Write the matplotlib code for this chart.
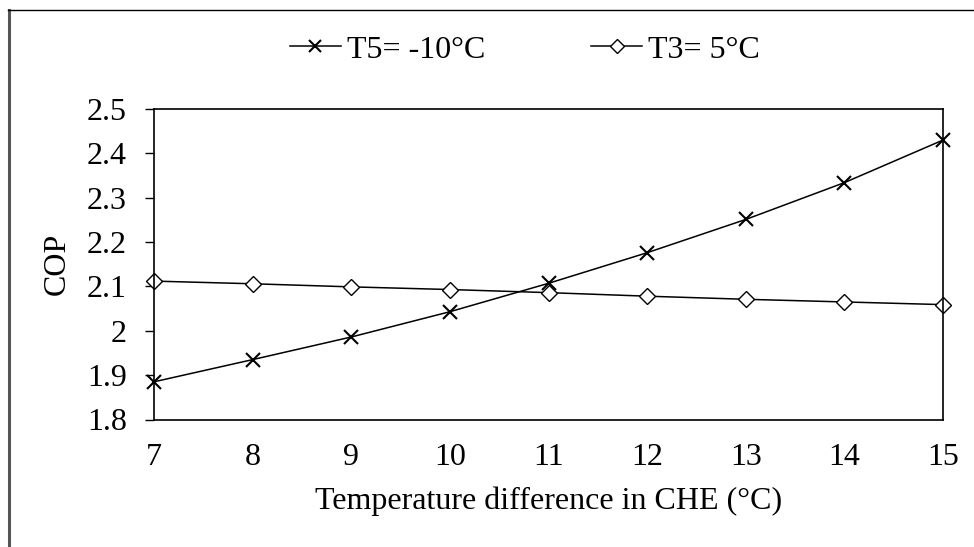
import numpy as np
import matplotlib
matplotlib.use("Agg")
import matplotlib.pyplot as plt
from matplotlib.lines import Line2D

plt.rcParams['font.family'] = ['Liberation Serif', 'DejaVu Serif']

# Data
temp_diff = [7, 8, 9, 10, 11, 12, 13, 14, 15]
cop_t5 = [1.885, 1.935, 1.986, 2.043, 2.107, 2.176, 2.251, 2.334, 2.430]
cop_t3 = [2.112, 2.106, 2.099, 2.093, 2.086, 2.078, 2.071, 2.065, 2.059]
y_ticks = [1.8, 1.9, 2.0, 2.1, 2.2, 2.3, 2.4, 2.5]
y_tick_labels = ['1.8', '1.9', '2', '2.1', '2.2', '2.3', '2.4', '2.5']

FS = 23

fig = plt.figure(figsize=(9.74, 5.47), dpi=100)
ax = fig.add_axes([154 / 974, 1 - 419.5 / 547, (943 - 154) / 974, (419.5 - 109) / 547])

ax.plot(temp_diff, cop_t5, color='black', lw=1.1, marker='x', ms=10.5, mew=1.5,
        label='T5= -10°C', clip_on=False)
ax.plot(temp_diff, cop_t3, color='black', lw=1.1, marker='D', ms=8.5, mew=1.0,
        mfc='white', label='T3= 5°C', clip_on=False)

ax.set_xlim(7, 15)
ax.set_ylim(1.8, 2.5)
ax.set_xticks(temp_diff)
ax.set_yticks(y_ticks)
ax.set_yticklabels(y_tick_labels)
ax.tick_params(axis='x', length=0, pad=17, labelsize=FS)
ax.tick_params(axis='y', length=6.5, width=1.0, direction='out', pad=13, labelsize=FS)
for s in ax.spines.values():
    s.set_linewidth(1.2)

ax.set_xlabel('Temperature difference in CHE (°C)', fontsize=FS, labelpad=10)
ax.set_ylabel('COP', fontsize=FS, labelpad=11)

fig.legend(*ax.get_legend_handles_labels(), loc='center',
           bbox_to_anchor=(525 / 974, 1 - 50 / 547), ncol=2, frameon=False,
           fontsize=FS, markerscale=0.8, handlelength=1.6, handletextpad=0.2,
           columnspacing=3.3, borderaxespad=0)

# partial outer frame as in the reference crop
fig.add_artist(Line2D([9 / 974, 9 / 974], [0, 1 - 10 / 547], color='#555555', lw=2.2,
                      transform=fig.transFigure))
fig.add_artist(Line2D([8 / 974, 1], [1 - 10 / 547, 1 - 10 / 547], color='black', lw=1.0,
                      transform=fig.transFigure))

fig.savefig('out.png', dpi=100)
